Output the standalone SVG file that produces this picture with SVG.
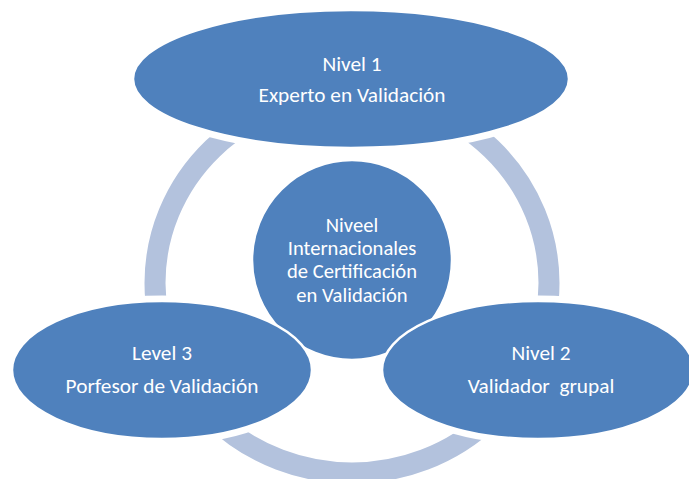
<svg xmlns="http://www.w3.org/2000/svg" width="689" height="479" viewBox="0 0 689 479">
  <style>
    .node { fill: #4f81bd; stroke: #ffffff; stroke-width: 2.5; }
    .ring { fill: none; stroke: #b3c2dd; stroke-width: 21; }
    .label { font-family: "Carlito", "Liberation Sans", Arial, sans-serif; font-size: 21.3px; fill: #ffffff; text-anchor: middle; }
    .center { font-size: 20.6px; }
  </style>
  <defs>
    <mask id="gapMask" maskUnits="userSpaceOnUse" x="0" y="0" width="689" height="479">
      <rect x="0" y="0" width="689" height="479" fill="#ffffff"/>
      <g fill="#000000" stroke="#000000" stroke-width="11">
        <ellipse cx="351" cy="79" rx="218" ry="69"/>
        <ellipse cx="162" cy="370" rx="150" ry="69"/>
        <ellipse cx="538" cy="370" rx="156" ry="69"/>
      </g>
    </mask>
  </defs>
  <rect x="0" y="0" width="689" height="479" fill="#ffffff"/>
  <g id="connectors" mask="url(#gapMask)">
    <ellipse class="ring" cx="352" cy="283" rx="197" ry="190"/>
  </g>
  <g id="node-center">
    <circle class="node" cx="352" cy="260" r="100"/>
    <text class="label center" x="352" y="232">Niveel</text>
    <text class="label center" x="352" y="255">Internacionales</text>
    <text class="label center" x="352" y="278">de Certificación</text>
    <text class="label center" x="352" y="302">en Validación</text>
  </g>
  <g id="node-1">
    <ellipse class="node" cx="351" cy="79" rx="218" ry="69"/>
    <text class="label" x="352" y="71">Nivel 1</text>
    <text class="label" x="352" y="102">Experto en Validación</text>
  </g>
  <g id="node-3">
    <ellipse class="node" cx="162" cy="370" rx="150" ry="69"/>
    <text class="label" x="162" y="360">Level 3</text>
    <text class="label" x="162" y="393">Porfesor de Validación</text>
  </g>
  <g id="node-2">
    <ellipse class="node" cx="538" cy="370" rx="156" ry="69"/>
    <text class="label" x="541" y="360">Nivel 2</text>
    <text class="label" x="541" y="393" xml:space="preserve">Validador  grupal</text>
  </g>
</svg>
